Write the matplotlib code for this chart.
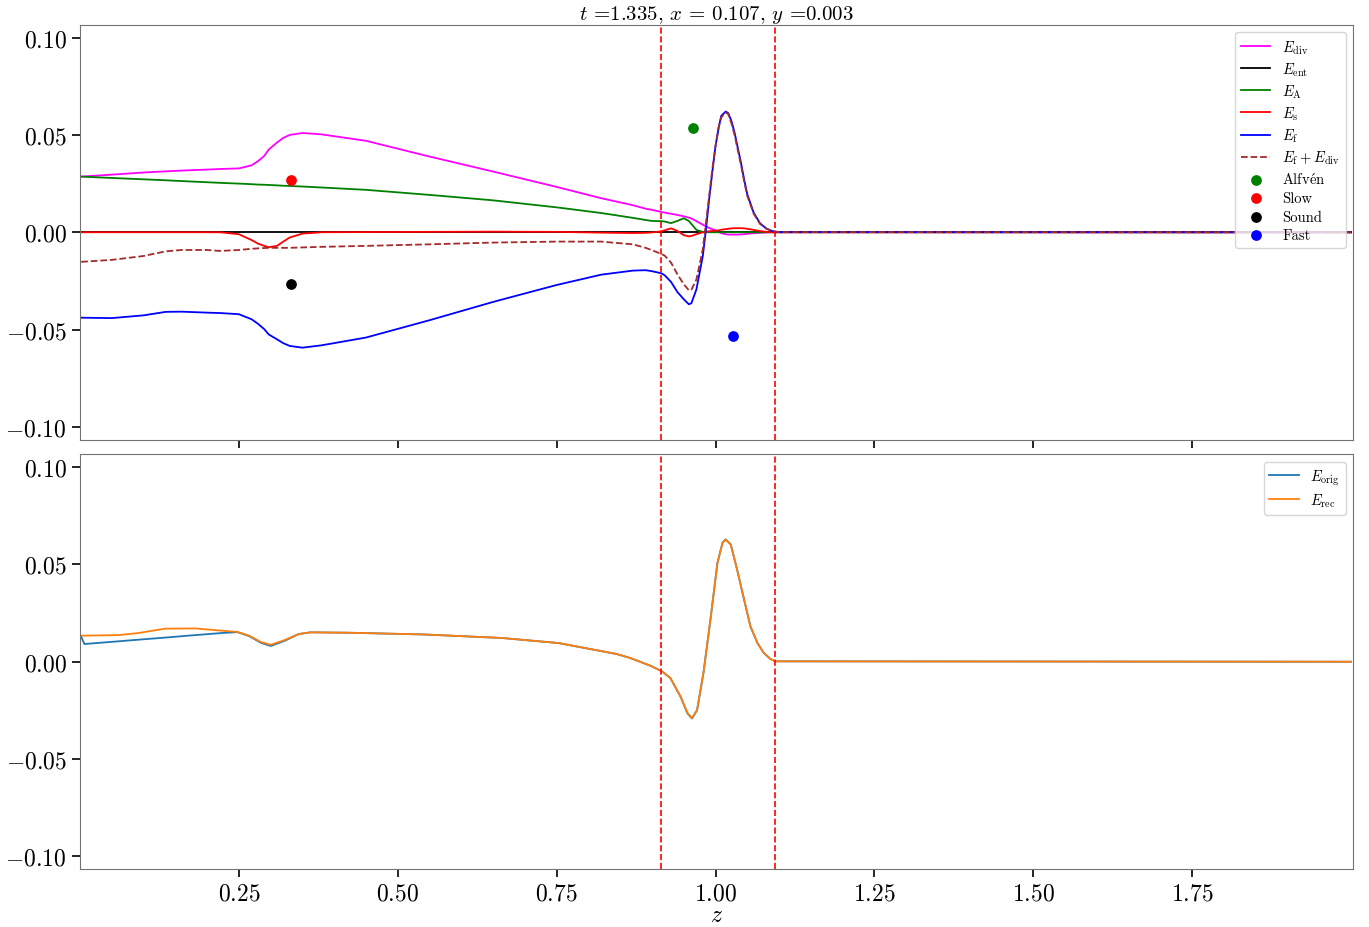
import numpy as np
import matplotlib
matplotlib.use('Agg')
import matplotlib.pyplot as plt

plt.rcParams['font.family'] = ['cmr10', 'DejaVu Serif']
plt.rcParams['mathtext.fontset'] = 'cm'
plt.rcParams['axes.formatter.use_mathtext'] = True
plt.rcParams['axes.unicode_minus'] = True

# top panel: energy components along z
z_top = [0.002, 0.05, 0.10, 0.135, 0.16, 0.20, 0.22, 0.25, 0.27, 0.28,
         0.29, 0.297, 0.31, 0.32, 0.33, 0.35, 0.38, 0.45, 0.55, 0.65,
         0.75, 0.82, 0.87, 0.89, 0.90, 0.915, 0.92, 0.93, 0.94, 0.95,
         0.958, 0.962, 0.97, 0.98, 0.985, 0.99, 0.995, 1.00, 1.005, 1.009,
         1.016, 1.02, 1.025, 1.03, 1.035, 1.04, 1.045, 1.05, 1.06, 1.07,
         1.08, 1.09, 1.10, 2.0]

E_div = [0.0286, 0.0296, 0.0307, 0.0313, 0.0317, 0.0322, 0.0325, 0.0328, 0.0344, 0.0365,
         0.0392, 0.0425, 0.0461, 0.0485, 0.0500, 0.0510, 0.0503, 0.0470, 0.0389, 0.0312,
         0.0233, 0.0175, 0.0139, 0.0121, 0.0115, 0.0104, 0.0101, 0.0095, 0.0089, 0.0082,
         0.0075, 0.0071, 0.0057, 0.0039, 0.0030, 0.0022, 0.0016, 0.0010, 0.0002, -0.0005,
         -0.0010, -0.0012, -0.0012, -0.0012, -0.0012, -0.0011, -0.0010, -0.0008, -0.0005, -0.0003,
         -0.0001, 0.0, 0.0, 0.0]

E_ent = [0.0] * len(z_top)

E_A = [0.0286, 0.0279, 0.0272, 0.0267, 0.0263, 0.0257, 0.0254, 0.0250, 0.0247, 0.0245,
       0.0244, 0.0243, 0.0241, 0.0239, 0.0238, 0.0235, 0.0230, 0.0218, 0.0192, 0.0164,
       0.0128, 0.0099, 0.0074, 0.0063, 0.0058, 0.0057, 0.0055, 0.0047, 0.0058, 0.0072,
       0.0058, 0.0043, 0.0012, 0.0002, 0.0001, 0.0, 0.0, 0.0, 0.0, 0.0,
       0.0, 0.0, 0.0, 0.0, 0.0, 0.0, 0.0, 0.0, 0.0, 0.0,
       0.0, 0.0, 0.0, 0.0]

E_s = [0.0, 0.0, 0.0, 0.0, 0.0, 0.0, 0.0, -0.0010, -0.0040, -0.0058,
       -0.0070, -0.0077, -0.0070, -0.0048, -0.0027, -0.0007, 0.0, 0.0001, 0.0002, 0.0003,
       0.0002, -0.0002, -0.0004, -0.0003, -0.0001, 0.0005, 0.0010, 0.0020, 0.0007, -0.0015,
       -0.0021, -0.0019, -0.0010, 0.0, 0.0003, 0.0005, 0.0007, 0.0008, 0.0010, 0.0013,
       0.0016, 0.0018, 0.0020, 0.0021, 0.0021, 0.0021, 0.0020, 0.0018, 0.0012, 0.0006,
       0.0002, 0.0, 0.0, 0.0]

E_f = [-0.0439, -0.0441, -0.0427, -0.0409, -0.0408, -0.0413, -0.0415, -0.0421, -0.0447, -0.0470,
       -0.0498, -0.0525, -0.0550, -0.0570, -0.0584, -0.0593, -0.0581, -0.0541, -0.0452, -0.0358,
       -0.0271, -0.0218, -0.0197, -0.0195, -0.0200, -0.0211, -0.0221, -0.0255, -0.0307, -0.0344,
       -0.0370, -0.0365, -0.0293, -0.0122, 0.0015, 0.0170, 0.0310, 0.0443, 0.0538, 0.0598,
       0.0620, 0.0612, 0.0572, 0.0512, 0.0435, 0.0358, 0.0272, 0.0195, 0.0101, 0.0046,
       0.0019, 0.0005, 0.0001, 0.0]

E_f_div = [-0.0152, -0.0142, -0.0122, -0.0098, -0.0091, -0.0091, -0.0096, -0.0091, -0.0085, -0.0083,
           -0.0081, -0.0080, -0.0080, -0.0080, -0.0080, -0.0078, -0.0075, -0.0070, -0.0062, -0.0053,
           -0.0048, -0.0048, -0.0062, -0.0080, -0.0092, -0.0112, -0.0120, -0.0156, -0.0216, -0.0267,
           -0.0298, -0.0296, -0.0242, -0.0087, 0.0050, 0.0187, 0.0326, 0.0443, 0.0540, 0.0590,
           0.0615, 0.0608, 0.0560, 0.0500, 0.0423, 0.0347, 0.0262, 0.0187, 0.0096, 0.0043,
           0.0018, 0.0005, 0.0001, 0.0]

# wave speed markers
wave_names = [r'Alfv$\acute{\mathrm{e}}$n', 'Slow', 'Sound', 'Fast']
wave_colors = ['green', 'red', 'black', 'blue']
wave_z = [0.964, 0.332, 0.332, 1.028]
wave_val = [0.0534, 0.0267, -0.0267, -0.0534]

# bottom panel: original vs reconstructed
z_bot = [0.002, 0.007, 0.061, 0.091, 0.134, 0.182, 0.225, 0.248, 0.266, 0.285, 0.300,
         0.321, 0.344, 0.363, 0.423, 0.542, 0.664, 0.753, 0.844, 0.866, 0.898, 0.916,
         0.929, 0.945, 0.956, 0.963, 0.971, 0.981, 0.992, 1.003, 1.011, 1.016, 1.024,
         1.034, 1.045, 1.055, 1.066, 1.076, 1.086, 1.094, 2.0]

E_rec = [0.0134, 0.0134, 0.0137, 0.0147, 0.0170, 0.0171, 0.0159, 0.0153, 0.0134, 0.0101,
         0.0087, 0.0110, 0.0142, 0.0151, 0.0149, 0.0140, 0.0122, 0.0096, 0.0040, 0.0019,
         -0.0021, -0.0050, -0.0084, -0.0178, -0.0264, -0.0290, -0.0247, -0.0058, 0.0216,
         0.0507, 0.0610, 0.0627, 0.0601, 0.0473, 0.0319, 0.0181, 0.0096, 0.0045, 0.0015,
         0.0002, 0.0]

E_orig = [0.0128, 0.0091, 0.0105, 0.0113, 0.0124, 0.0137, 0.0148, 0.0152, 0.0132, 0.0097,
          0.0081, 0.0106, 0.0142, 0.0151, 0.0149, 0.0140, 0.0122, 0.0096, 0.0040, 0.0019,
          -0.0021, -0.0050, -0.0084, -0.0180, -0.0266, -0.0292, -0.0249, -0.0058, 0.0216,
          0.0507, 0.0612, 0.0629, 0.0603, 0.0473, 0.0319, 0.0181, 0.0096, 0.0045, 0.0015,
          0.0002, 0.0]

vlines = [0.915, 1.093]

fig, (ax1, ax2) = plt.subplots(2, 1, sharex=True, figsize=(13.69, 9.28), dpi=100)
fig.subplots_adjust(left=0.0584, right=0.9883, top=0.972, bottom=0.0625, hspace=0.036)

ax1.plot(z_top, E_div, color='magenta', lw=1.3, label=r'$E_{\mathrm{div}}$')
ax1.plot(z_top, E_ent, color='black', lw=1.3, label=r'$E_{\mathrm{ent}}$')
ax1.plot(z_top, E_A, color='green', lw=1.3, label=r'$E_{\mathrm{A}}$')
ax1.plot(z_top, E_s, color='red', lw=1.3, label=r'$E_{\mathrm{s}}$')
ax1.plot(z_top, E_f, color='blue', lw=1.3, label=r'$E_{\mathrm{f}}$')
ax1.plot(z_top, E_f_div, color='brown', ls='--', lw=1.3,
         label=r'$E_{\mathrm{f}} + E_{\mathrm{div}}$')
for name, c, zz, vv in zip(wave_names, wave_colors, wave_z, wave_val):
    ax1.scatter(zz, vv, color=c, s=45, label=name, zorder=3)
ax1.set_title(r'$t$ =1.335, $x$ = 0.107, $y$ =0.003', fontsize=15, pad=3)
ax1.legend(loc='upper right', fontsize=10.5, labelspacing=0.32, borderaxespad=0.5)

ax2.plot(z_bot, E_orig, color='C0', lw=1.3, label=r'$E_{\mathrm{orig}}$')
ax2.plot(z_bot, E_rec, color='C1', lw=1.3, label=r'$E_{\mathrm{rec}}$')
ax2.legend(loc='upper right', fontsize=10.5, labelspacing=0.3, borderaxespad=0.5)
ax2.set_xlabel(r'$z$', fontsize=17, labelpad=0)

for ax in (ax1, ax2):
    for v in vlines:
        ax.axvline(v, color='red', ls='--', lw=1.2)
    ax.set_ylim(-0.1065, 0.1065)
    ax.set_yticks([-0.10, -0.05, 0.0, 0.05, 0.10])
    ax.tick_params(labelsize=17, length=6, width=1.2)
    for sp in ax.spines.values():
        sp.set_color('0.45')

ax2.set_xlim(0.0, 2.003)
ax2.set_xticks([0.25, 0.50, 0.75, 1.00, 1.25, 1.50, 1.75])

fig.savefig('out.png', dpi=100)
